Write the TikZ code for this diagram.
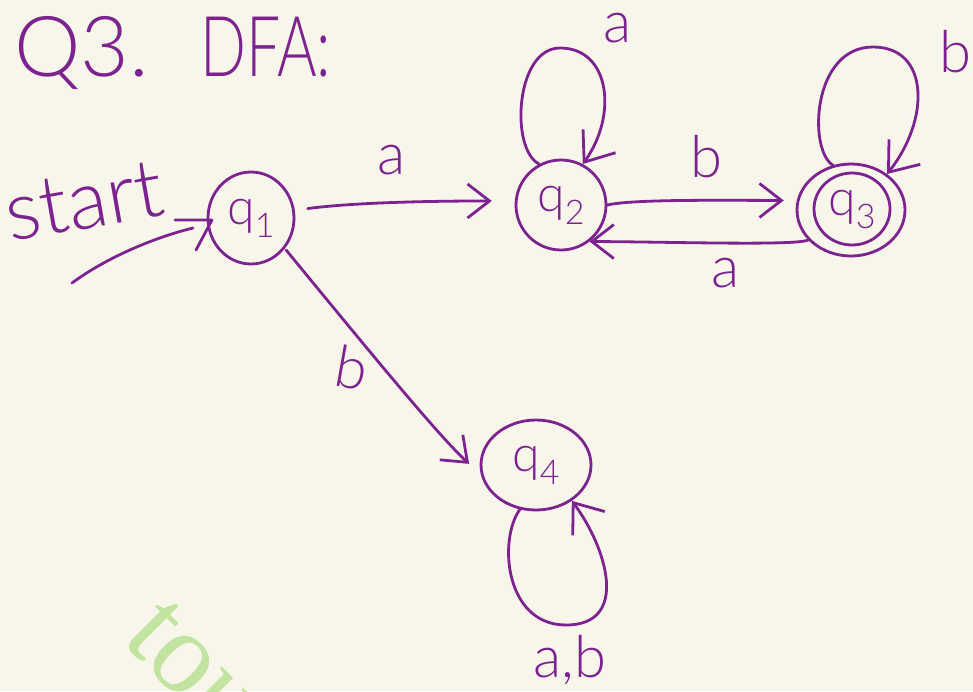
\documentclass[tikz,border=0pt]{standalone}
\usepackage{fontspec}
\setmainfont{Lato}
\newfontfamily\handfont{Lato}[UprightFont={* Light}]
\newfontfamily\markfont{Liberation Serif}
\usetikzlibrary{shapes.geometric,arrows.meta}
\definecolor{paper}{HTML}{F8F6EB}
\definecolor{ink}{HTML}{7D2390}
\definecolor{wmark}{HTML}{C3E3A0}
\newcommand{\fsz}[1]{\fontsize{#1}{#1}\selectfont}
\newcommand{\qname}[1]{{\fsz{50}q}\raisebox{-13pt}{\fsz{34}#1}}

\begin{document}
\begin{tikzpicture}[x=1pt,y=-1pt,
  pen/.style={draw=ink, line width=2.8pt, line cap=round, line join=round},
  state/.style={pen, ellipse, inner sep=0pt, text=ink, font=\handfont},
  lbl/.style={text=ink, font=\handfont\fsz{58}, inner sep=0pt},
  edge/.style={pen, -{Straight Barb[length=22pt,width=34pt]}},
  loopedge/.style={pen, -{Straight Barb[length=26pt,width=40pt]}}]

\useasboundingbox (0,0) rectangle (973,691);
\fill[paper] (0,0) rectangle (973,691);
\clip (0,0) rectangle (973,691);

% faint watermark
\node[text=wmark, font=\markfont\fsz{116}, rotate=-45, anchor=base west, inner sep=0pt]
  (mark) at (120,640) {tou};

% heading
\node[text=ink, font=\handfont\fsz{84}, anchor=base west, inner sep=0pt] (head1) at (14,76) {Q3.};
\node[text=ink, font=\handfont\fsz{84}, anchor=base west, inner sep=0pt] (head2) at (200,76)
  {\scalebox{0.72}[1]{DFA:}};

% states
\node[state, minimum width=86pt, minimum height=92pt] (q1) at (251,218) {\qname{1}};
\node[state, minimum width=90pt, minimum height=90pt] (q2) at (561,205) {\qname{2}};
\node[state, minimum width=108pt, minimum height=92pt] (q3) at (851,210) {};
\node[state, minimum width=76pt, minimum height=72pt] (q3in) at (852,209) {\qname{3}};
\node[state, minimum width=110pt, minimum height=90pt] (q4) at (536,465) {\qname{4}};

% start marker
\node[lbl, font=\handfont\fsz{82}, rotate=10, anchor=base west] (startlbl) at (10,242) {start};
\coordinate (tail) at (72,283);
\coordinate (curveend) at (193,228);
\coordinate (barbA) at (175,220);
\coordinate (barbB) at (196,250);
\coordinate (tip) at (212,220);
\draw[pen] (tail) .. controls (110,255) and (160,236) .. (curveend);
\draw[pen] (barbA) -- (tip) -- (barbB);

% transitions between states
\draw[edge, shorten <=13pt, shorten >=23pt] (q1.10) .. controls +(60,-8) and +(-80,0) .. (q2.175);
\node[lbl] (la12) at (392,160) {a};

\draw[edge, shorten >=13pt] (q2.0) .. controls +(25,-6) and +(-70,0) .. (q3.170);
\node[lbl] (lb23) at (706,157) {b};

\draw[edge] (q3.215) .. controls +(-12,6) and +(70,0) .. (q2.-52);
\node[lbl] (la32) at (726,273) {a};

\draw[edge, shorten <=2pt, shorten >=16pt] (q1.-42) .. controls +(100,122) and +(-40,-37) .. (q4.190);
\node[lbl, rotate=-10] (lb14) at (352,368) {b};

% self loops
\draw[loopedge] (q2.118) .. controls (510,150) and (515,48) .. (560,48)
                .. controls (610,48) and (618,115) .. (q2.62);
\node[lbl] (la22) at (618,28) {a};

\draw[loopedge] (q3.112) .. controls (808,150) and (812,47) .. (873,47)
                .. controls (930,47) and (930,120) .. (q3.45);
\node[lbl] (lb33) at (955,52) {b};

\draw[loopedge] (q4.250) .. controls (498,540) and (505,625) .. (566,625)
                .. controls (630,625) and (607,548) .. (q4.-45);
\node[lbl] (lab44) at (570,660) {a,b};
\end{tikzpicture}
\end{document}
